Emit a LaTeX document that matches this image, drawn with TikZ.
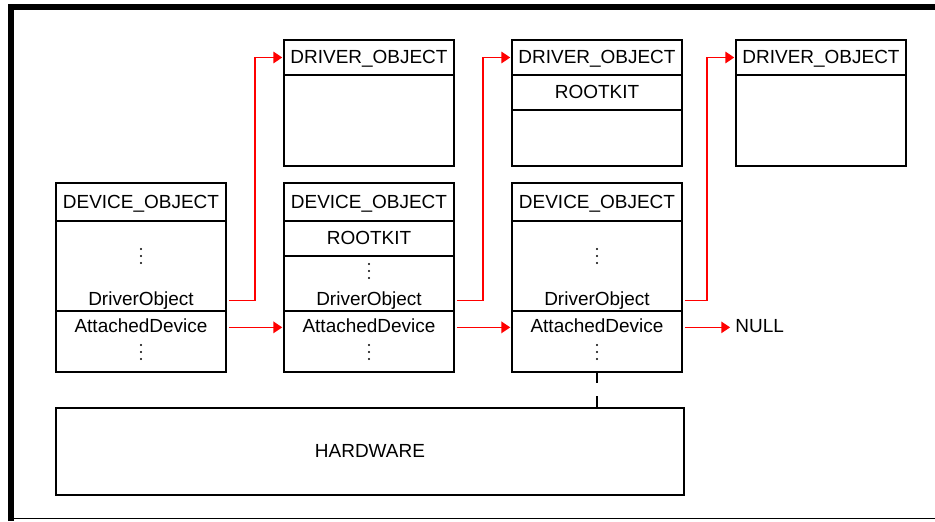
\documentclass[tikz,border=0pt]{standalone}
\usepackage{fontspec}
\setmainfont{Liberation Sans}
\usetikzlibrary{calc,arrows.meta}

\tikzset{
	cell/.style={draw, line width=0.7pt, rectangle, inner sep=0pt, outer sep=0pt, minimum width=3.4cm, anchor=north west, text height=1.38ex, text depth=0pt},
	field/.style={inner sep=0pt, anchor=base},
	ptr/.style={draw=red, line width=0.85pt, -{Triangle[length=5pt,width=6.5pt]}, shorten <=1.7pt, shorten >=1pt},
	colondots/.pic={\foreach \d in {-7, 0, 7} \fill (0, \d) circle (0.6pt);},
}

\begin{document}
\begin{tikzpicture}[x=0.02cm, y=-0.02cm, font=\fontsize{10.8}{13}\selectfont]
			%%%%% START %%%%%
			\useasboundingbox (0, 0) rectangle (935, 521);
			
			\draw[line width=3.4pt] (11, 521) -- (11, 7) -- (935, 7);
			\draw[line width=1.1pt] (11, 518.5) -- (935, 518.5);
			
			% driver objects
			\node[cell, minimum height=0.7cm] (drv1head) at (284, 40) {DRIVER\_OBJECT};
			\node[cell, minimum height=1.82cm] (drv1body) at (drv1head.south west) {};
			
			\node[cell, minimum height=0.7cm] (drv2head) at (512, 40) {DRIVER\_OBJECT};
			\node[cell, minimum height=0.7cm] (drv2kit) at (drv2head.south west) {ROOTKIT};
			\node[cell, minimum height=1.12cm] (drv2body) at (drv2kit.south west) {};
			
			\node[cell, minimum height=0.7cm] (drv3head) at (736, 40) {DRIVER\_OBJECT};
			\node[cell, minimum height=1.82cm] (drv3body) at (drv3head.south west) {};
			
			% device objects
			\node[cell, minimum height=0.76cm] (dev1head) at (56, 183) {DEVICE\_OBJECT};
			\node[cell, minimum height=1.8cm] (dev1body) at (dev1head.south west) {};
			\node[cell, minimum height=1.22cm] (dev1low) at (dev1body.south west) {};
			\pic (dev1dots) at (141, 256) {colondots};
			\node[field] (dev1drv) at (141, 305) {DriverObject};
			\node[field] (dev1att) at (141, 332) {AttachedDevice};
			\pic (dev1more) at (141, 352) {colondots};
			
			\node[cell, minimum height=0.76cm] (dev2head) at (284, 183) {DEVICE\_OBJECT};
			\node[cell, minimum height=0.7cm] (dev2kit) at (dev2head.south west) {ROOTKIT};
			\node[cell, minimum height=1.1cm] (dev2body) at (dev2kit.south west) {};
			\node[cell, minimum height=1.22cm] (dev2low) at (dev2body.south west) {};
			\pic (dev2dots) at (369, 271) {colondots};
			\node[field] (dev2drv) at (369, 305) {DriverObject};
			\node[field] (dev2att) at (369, 332) {AttachedDevice};
			\pic (dev2more) at (369, 352) {colondots};
			
			\node[cell, minimum height=0.76cm] (dev3head) at (512, 183) {DEVICE\_OBJECT};
			\node[cell, minimum height=1.8cm] (dev3body) at (dev3head.south west) {};
			\node[cell, minimum height=1.22cm] (dev3low) at (dev3body.south west) {};
			\pic (dev3dots) at (597, 256) {colondots};
			\node[field] (dev3drv) at (597, 305) {DriverObject};
			\node[field] (dev3att) at (597, 332) {AttachedDevice};
			\pic (dev3more) at (597, 352) {colondots};
			
			\node[field, anchor=base west] (null) at (735, 332) {NULL};
			
			\node[cell, minimum width=12.56cm, minimum height=1.74cm] (hw) at (56, 408) {HARDWARE};
			
			% pointers
			\draw[ptr] (dev1body.east |- dev1drv.mid) -- ++(29, 0) |- (drv1head.west);
			\draw[ptr] (dev2body.east |- dev2drv.mid) -- ++(29, 0) |- (drv2head.west);
			\draw[ptr] (dev3body.east |- dev3drv.mid) -- ++(25, 0) |- (drv3head.west);
			
			\draw[ptr] (dev1low.east |- dev1att.mid) -- (dev2low.west |- dev1att.mid);
			\draw[ptr] (dev2low.east |- dev2att.mid) -- (dev3low.west |- dev2att.mid);
			\draw[ptr, shorten >=2.8pt] (dev3low.east |- dev3att.mid) -- (null.west |- dev3att.mid);
			
			\draw[line width=0.7pt, dash pattern=on 6.3pt off 7.4pt] (dev3low.south) -- (hw.north -| dev3low.south);
			
			%%%%% END %%%%%
\end{tikzpicture}
\end{document}
